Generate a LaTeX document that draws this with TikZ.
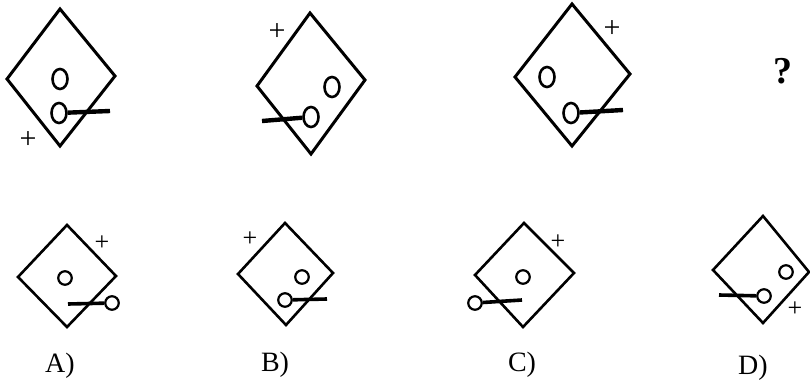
\documentclass[tikz,border=0pt]{standalone}
\usepackage{fontspec}
\setmainfont{Liberation Serif}
\usepackage{tikz}
\usetikzlibrary{shapes.geometric, arrows, arrows.meta, positioning, calc}
\tikzstyle{frame} = [line width=3pt, line join=miter]
\tikzstyle{smallframe} = [line width=2.6pt, line join=miter]
\tikzstyle{ring} = [ellipse, draw=black, line width=2.6pt,
minimum width=15pt, minimum height=20pt, inner sep=0pt]
\tikzstyle{smallring} = [circle, draw=black, line width=2.2pt,
minimum size=13.5pt, inner sep=0pt]
\tikzstyle{stick} = [line width=4.4pt]
\tikzstyle{smallstick} = [line width=3.6pt]
\tikzstyle{plus} = [font=\fontsize{30}{30}\selectfont, inner sep=0pt]
\tikzstyle{smallplus} = [font=\fontsize{26}{26}\selectfont, inner sep=0pt]
\tikzstyle{answer} = [font=\fontsize{28}{28}\selectfont, inner sep=0pt]

\begin{document}
\begin{tikzpicture}[x=1pt, y=-1pt]
            \useasboundingbox (0,0) rectangle (810,382);

            % first row
            \draw [frame] (60,9) -- (115,76) -- (60,146) -- (7,79) -- cycle;
            \node (r1a) [ring] at (60,79) {};
            \node (r1b) [ring] at (59,113) {};
            \coordinate (t1) at (110,111);
            \draw [stick] (r1b) -- (t1);
            \node (p1) [plus] at (28,140) {+};

            \draw [frame] (310,13) -- (365,80) -- (311,154) -- (257,86) -- cycle;
            \node (r2a) [ring] at (332,87) {};
            \node (r2b) [ring] at (311,117) {};
            \coordinate (t2) at (262,121);
            \draw [stick] (r2b) -- (t2);
            \node (p2) [plus] at (277,32) {+};

            \draw [frame] (572,4) -- (630,74) -- (572,146) -- (515,77) -- cycle;
            \node (r3a) [ring] at (547,77) {};
            \node (r3b) [ring] at (571,113) {};
            \coordinate (t3) at (623,110);
            \draw [stick] (r3b) -- (t3);
            \node (p3) [plus] at (612,29) {+};

            \node (ask) [font=\fontsize{38}{38}\selectfont\bfseries, inner sep=0pt] at (783,71) {?};

            % answers
            \draw [smallframe] (67,225) -- (116,276) -- (67,327) -- (18,277) -- cycle;
            \node (ra1) [smallring] at (65,278) {};
            \node (ra2) [smallring] at (112,303) {};
            \coordinate (ta) at (68,304);
            \draw [smallstick] (ra2) -- (ta);
            \node (pa) [smallplus] at (102,243) {+};
            \node (la) [answer] at (60,366) {A)};

            \draw [smallframe] (285,223) -- (333,273) -- (286,325) -- (238,274) -- cycle;
            \node (rb1) [smallring] at (302,277) {};
            \node (rb2) [smallring] at (285,300) {};
            \coordinate (tb) at (327,299);
            \draw [smallstick] (rb2) -- (tb);
            \node (pb) [smallplus] at (250,239) {+};
            \node (lb) [answer] at (275,365) {B)};

            \draw [smallframe] (524,223) -- (574,273) -- (523,327) -- (475,275) -- cycle;
            \node (rc1) [smallring] at (523,277) {};
            \node (rc2) [smallring] at (475,303) {};
            \coordinate (tc) at (522,300);
            \draw [smallstick] (rc2) -- (tc);
            \node (pc) [smallplus] at (558,242) {+};
            \node (lc) [answer] at (522,365) {C)};

            \draw [smallframe] (763,216) -- (809,272) -- (763,323) -- (713,270) -- cycle;
            \node (rd1) [smallring] at (786,272) {};
            \node (rd2) [smallring] at (764,296) {};
            \coordinate (td) at (719,295);
            \draw [smallstick] (rd2) -- (td);
            \node (pd) [smallplus] at (795,309) {+};
            \node (ld) [answer] at (753,368) {D)};
        \end{tikzpicture}
\end{document}
